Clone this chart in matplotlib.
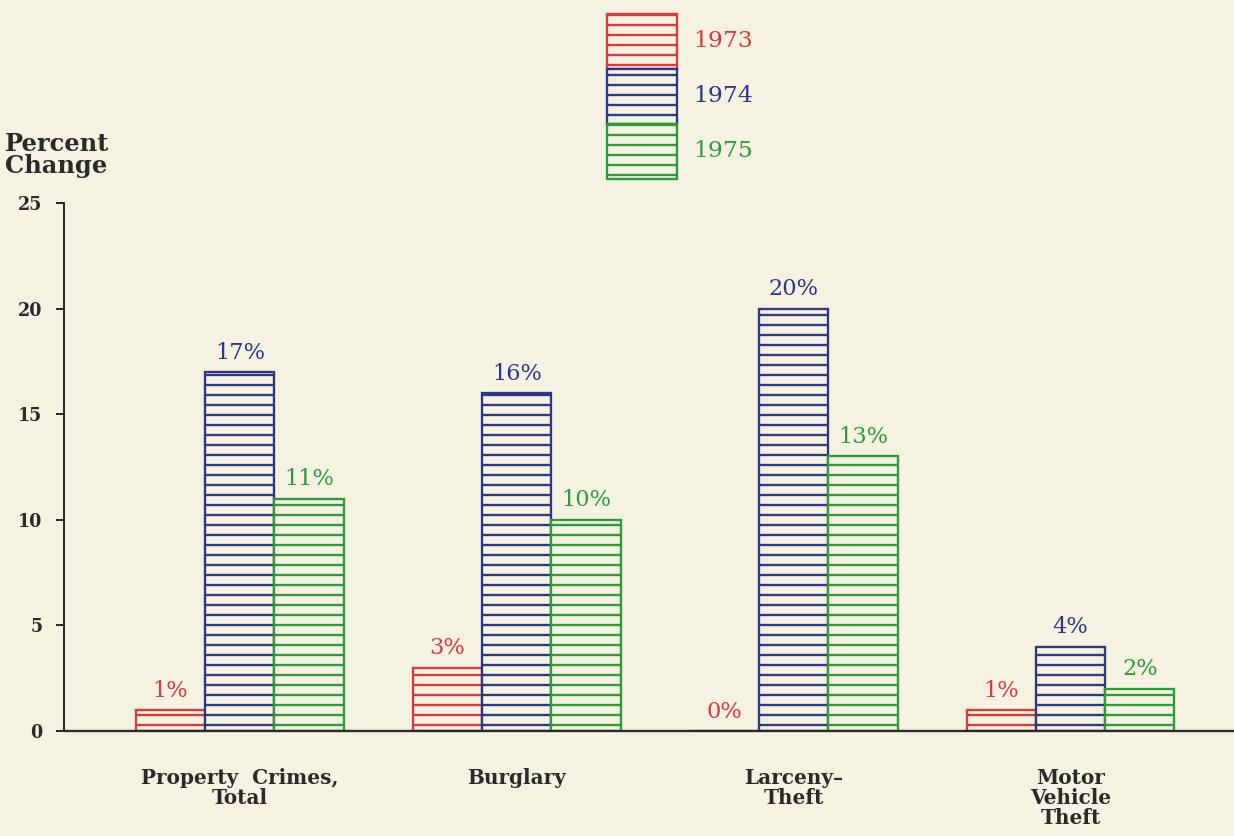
import matplotlib.pyplot as plt
from matplotlib.patches import Patch
import numpy as np

### Data
categories = ["Property  Crimes,\nTotal", "Burglary", "Larceny\u2013\nTheft", "Motor\nVehicle\nTheft"]
years = ["1973", "1974", "1975"]
change_1973 = [1, 3, 0, 1]
change_1974 = [17, 16, 20, 4]
change_1975 = [11, 10, 13, 2]
yticks = [0, 5, 10, 15, 20, 25]

series = [change_1973, change_1974, change_1975]
colors = ["#d83a3e", "#2e3688", "#2f9a3c"]
bg = "#f6f2e2"
ink = "#2a2a2a"

plt.rcParams["font.family"] = ["DejaVu Serif"]
plt.rcParams["font.weight"] = "bold"
plt.rcParams["hatch.linewidth"] = 1.4

dpi = 120
fig = plt.figure(figsize=(1234 / dpi, 836 / dpi), dpi=dpi, facecolor=bg)
ax = fig.add_axes([64 / 1234, 105 / 836, 1170 / 1234, 528 / 836])
ax.set_facecolor(bg)

x = np.arange(len(categories))
w = 0.25
for i, (vals, c, yr) in enumerate(zip(series, colors, years)):
    bars = ax.bar(x + (i - 1) * w, vals, w, facecolor=bg, edgecolor=c,
                  hatch="--", linewidth=1.4, label=yr)
    ax.bar_label(bars, labels=[f"{v}%" for v in vals], padding=5,
                 color=c, fontsize=13.5, fontweight="normal")

ax.set_xlim(-0.635, 3.59)
ax.set_ylim(0, 25)
ax.set_yticks(yticks)
ax.set_yticklabels([str(t) for t in yticks], fontsize=10.5, color=ink)
ax.set_xticks(x)
ax.set_xticklabels(categories, fontsize=12, color=ink, linespacing=1.0)
ax.tick_params(axis="x", length=0, pad=22)
ax.tick_params(axis="y", length=5, width=1.2, color=ink, pad=8)
for s in ["top", "right"]:
    ax.spines[s].set_visible(False)
ax.spines["left"].set_color(ink)
ax.spines["bottom"].set_color(ink)
ax.spines["left"].set_linewidth(1.2)
ax.spines["bottom"].set_linewidth(1.4)

fig.text(5 / 1234, 1 - 132 / 836, "Percent\nChange", fontsize=14.5, color=ink,
         va="top", ha="left", linespacing=0.9)

handles = [Patch(facecolor=bg, edgecolor=c, hatch="--", linewidth=1.4) for c in colors]
leg = fig.legend(handles, years, loc="upper left",
                 bbox_to_anchor=(607 / 1234, 1 - 14 / 836), frameon=False,
                 fontsize=12, handlelength=3.5, handleheight=3.85,
                 labelspacing=0, borderpad=0, handletextpad=0.8, borderaxespad=0)
for t, c in zip(leg.get_texts(), colors):
    t.set_color(c)
    t.set_fontweight("normal")
    t.set_fontsize(14)

fig.savefig("out.png", dpi=dpi, facecolor=bg)
